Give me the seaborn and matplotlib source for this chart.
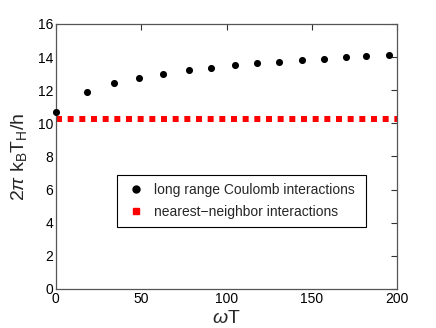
import matplotlib
matplotlib.use("Agg")
import matplotlib.pyplot as plt
import seaborn as sns
import pandas as pd
from matplotlib.lines import Line2D

# Data
omega_T = [0, 18, 34, 49, 63, 78, 91, 105, 118, 131, 144, 157, 170, 182, 195]
coulomb = [10.68, 11.90, 12.42, 12.74, 12.99, 13.19, 13.35, 13.50, 13.62, 13.72, 13.84, 13.90, 13.98, 14.06, 14.14]
nn_x = [0, 200]
nn_y = [10.28, 10.28]
x_ticks = [0, 50, 100, 150, 200]
y_ticks = [0, 2, 4, 6, 8, 10, 12, 14, 16]
label_coulomb = "long range Coulomb interactions"
label_nn = "nearest\u2212neighbor interactions"

sns.set_style("white")
plt.rcParams["font.family"] = ["Liberation Sans", "DejaVu Sans"]
plt.rcParams["mathtext.fontset"] = "custom"
plt.rcParams["mathtext.rm"] = "Liberation Sans"
plt.rcParams["mathtext.it"] = "Liberation Sans:italic"
plt.rcParams["lines.scale_dashes"] = False

fig = plt.figure(figsize=(4.36, 3.28), dpi=100)
ax = fig.add_axes([0.128, 0.119, 0.783, 0.808])

df_c = pd.DataFrame({"x": omega_T, "y": coulomb})
df_n = pd.DataFrame({"x": nn_x, "y": nn_y})

sns.lineplot(data=df_n, x="x", y="y", ax=ax, color="#ff0000", linewidth=4.3,
             dashes=False, legend=False)
line = ax.lines[-1]
line.set_linestyle((0, (4.3, 4.1)))
line.set_dash_capstyle("butt")
line.set_clip_on(False)

sns.scatterplot(data=df_c, x="x", y="y", ax=ax, color="black", s=26,
                edgecolor="black", linewidth=0, legend=False, zorder=3, clip_on=False)

ax.set_xlim(0, 200)
ax.set_ylim(0, 16)
ax.set_xticks(x_ticks)
ax.set_yticks(y_ticks)
ax.tick_params(direction="in", length=4, width=0.8, top=True, right=True,
               labelsize=10, colors="#333333", labelcolor="black", pad=2)
for s in ax.spines.values():
    s.set_color("#555555")
    s.set_linewidth(0.9)

ax.set_xlabel(r"$\omega$T", fontsize=14, labelpad=3)
ax.set_ylabel(r"2$\pi$ k$_{\rm B}$T$_{\rm H}$/h", fontsize=14, labelpad=6)

handles = [
    Line2D([], [], marker="o", color="black", linestyle="none", markersize=5),
    Line2D([], [], marker="s", color="#ff0000", linestyle="none", markersize=5),
]
leg = ax.legend(handles, [label_coulomb, label_nn], loc="upper left",
                bbox_to_anchor=(0.179, 0.43, 0.730, 0.0), mode="expand",
                fontsize=10, frameon=True,
                fancybox=False, edgecolor="black", framealpha=1,
                handlelength=1.6, handletextpad=0.5, borderpad=0.55,
                labelspacing=0.6, borderaxespad=0)
leg.get_frame().set_linewidth(0.8)

fig.savefig("out.png", dpi=100)
